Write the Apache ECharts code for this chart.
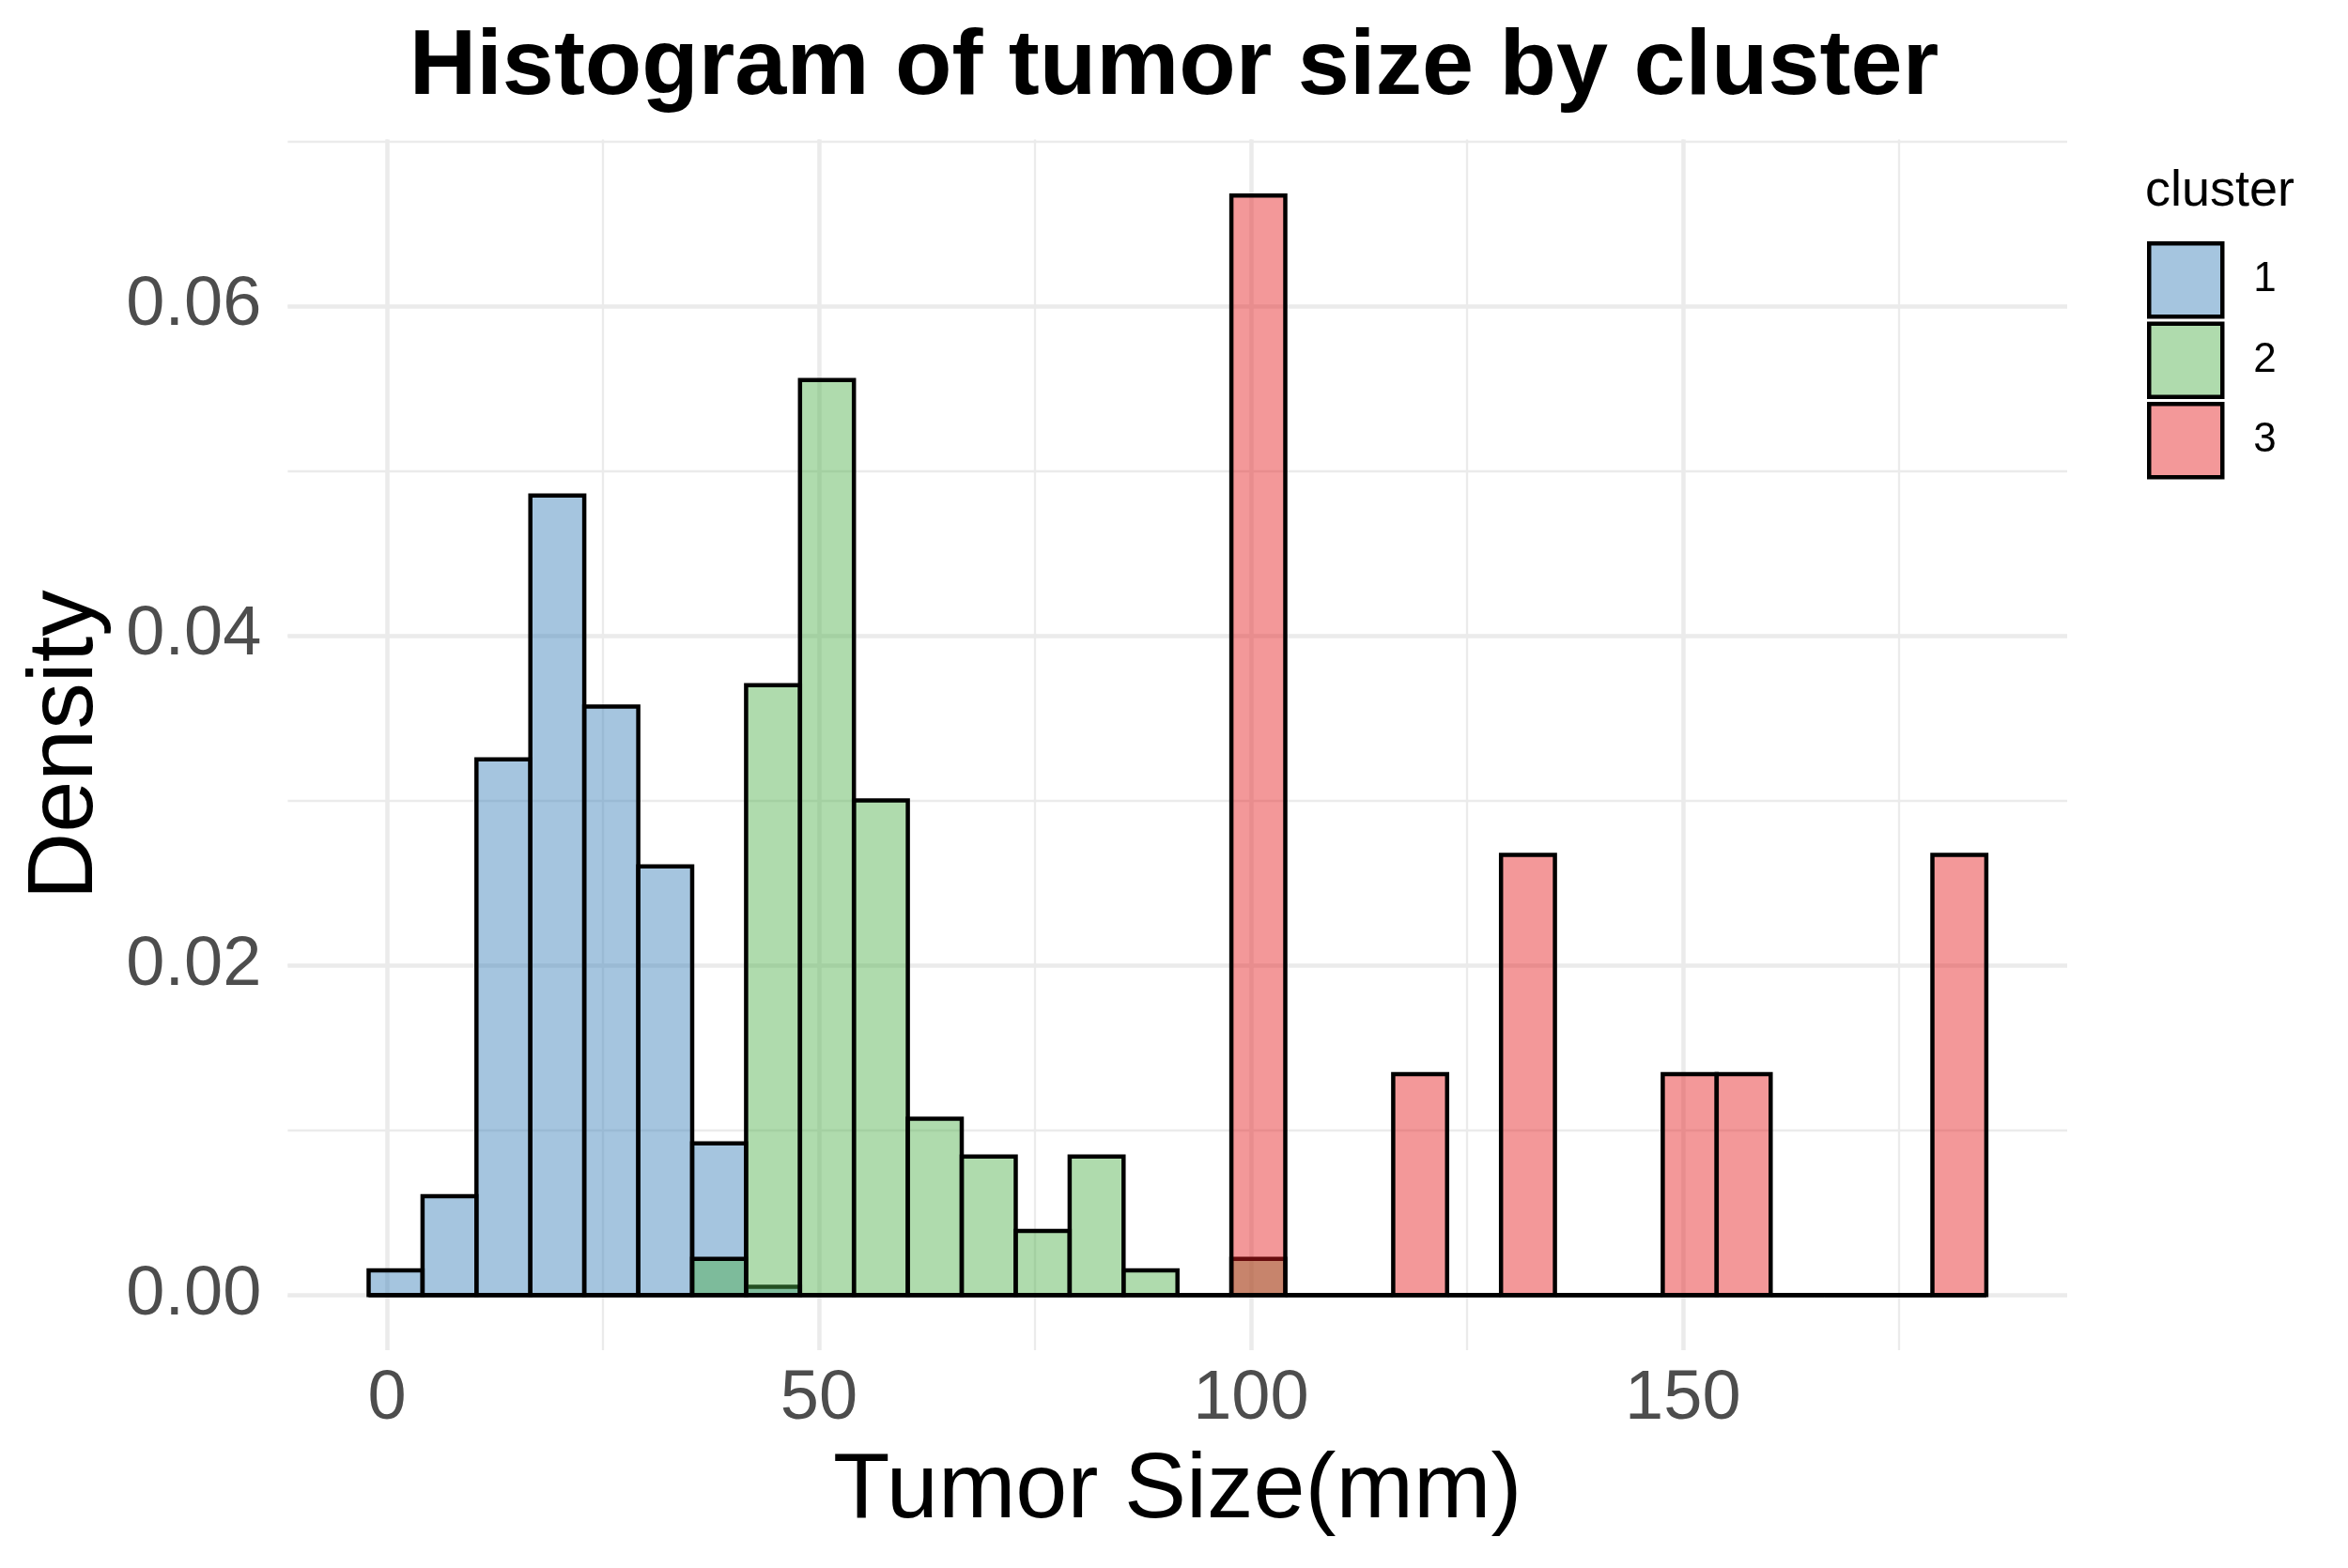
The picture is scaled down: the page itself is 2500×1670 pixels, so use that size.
<!DOCTYPE html>
<html>
<head>
<meta charset="utf-8">
<script src="https://cdn.jsdelivr.net/npm/echarts@6/dist/echarts.min.js"></script>
<style>
html,body{margin:0;padding:0;background:#fff;}
#chart{width:2500px;height:1670px;}
</style>
</head>
<body>
<div id="chart"></div>
<script>
// ---- data ----
const binEdges = [-2.12, 4.12, 10.36, 16.60, 22.84, 29.09, 35.33, 41.57, 47.81, 54.05,
  60.29, 66.53, 72.78, 79.02, 85.26, 91.50, 97.74, 103.98, 110.22, 116.47,
  122.71, 128.95, 135.19, 141.43, 147.67, 153.91, 160.16, 166.40, 172.64, 178.88, 185.12];
const clusterNames = ['1', '2', '3'];
const density1 = [0.0015, 0.0060, 0.0325, 0.0485, 0.0357, 0.0260, 0.0092, 0.0005, 0, 0,
  0, 0, 0, 0, 0, 0, 0, 0, 0, 0, 0, 0, 0, 0, 0, 0, 0, 0, 0, 0];
const density2 = [0, 0, 0, 0, 0, 0, 0.0022, 0.0370, 0.0555, 0.0300,
  0.0107, 0.0084, 0.0039, 0.0084, 0.0015, 0, 0.0022, 0, 0, 0, 0, 0, 0, 0, 0, 0, 0, 0, 0, 0];
const density3 = [0, 0, 0, 0, 0, 0, 0, 0, 0, 0,
  0, 0, 0, 0, 0, 0, 0.0667, 0, 0, 0.0134, 0, 0.0267, 0, 0, 0.0134, 0.0134, 0, 0, 0, 0.0267];
const xTickLabels = [0, 50, 100, 150];
const yTickLabels = ['0.00', '0.02', '0.04', '0.06'];

// ---- styling ----
const FONT = '"Liberation Sans", Arial, sans-serif';
const fills = ['rgba(55,126,184,0.45)', 'rgba(77,175,74,0.45)', 'rgba(228,26,28,0.45)'];
const densities = [density1, density2, density3];

function toRows(arr) {
  return arr.map((d, i) => [binEdges[i], binEdges[i + 1], d]);
}

function renderBar(params, api) {
  const p0 = api.coord([api.value(0), 0]);
  const p1 = api.coord([api.value(1), api.value(2)]);
  return {
    type: 'rect',
    shape: { x: p0[0], y: p1[1], width: p1[0] - p0[0], height: p0[1] - p1[1] },
    style: { fill: fills[params.seriesIndex], stroke: '#000', lineWidth: 4.5 }
  };
}

const XMIN = -11.48, XMAX = 194.48, YMIN = -0.00334, YMAX = 0.0701;

const chart = echarts.init(document.getElementById('chart'), null, { renderer: 'canvas' });
chart.setOption({
  backgroundColor: '#ffffff',
  animation: false,
  title: [
    { text: 'Histogram of tumor size by cluster', left: 'center', top: 18,
      textStyle: { fontFamily: FONT, fontSize: 99, fontWeight: 'bold', color: '#000' } },
    { text: 'cluster', left: 2279, top: 172,
      textStyle: { fontFamily: FONT, fontSize: 54, fontWeight: 'normal', color: '#000' } }
  ],
  legend: {
    orient: 'vertical', left: 2281, top: 252,
    itemWidth: 78, itemHeight: 78, itemGap: 3,
    textStyle: { fontFamily: FONT, fontSize: 44, color: '#000', padding: [0, 0, 0, 28] },
    data: clusterNames.map((n, i) => ({
      name: n, icon: 'rect',
      itemStyle: { color: fills[i], borderColor: '#000', borderWidth: 4.5 }
    }))
  },
  grid: { left: 306.4, right: 299, top: 148.5, bottom: 232 },
  xAxis: [
    {
      type: 'value', min: XMIN, max: XMAX, minInterval: 50, maxInterval: 50,
      name: 'Tumor Size(mm)', nameLocation: 'middle', nameGap: 101,
      nameTextStyle: { fontFamily: FONT, fontSize: 99, color: '#000' },
      axisLine: { show: false, onZero: false }, axisTick: { show: false },
      axisLabel: {
        fontFamily: FONT, fontSize: 74, color: '#4D4D4D', margin: 16,
        showMinLabel: false, showMaxLabel: false,
        formatter: v => (xTickLabels.indexOf(Math.round(v * 1000) / 1000) >= 0 ? String(Math.round(v)) : '')
      },
      splitLine: { show: true, showMinLine: false, showMaxLine: false, lineStyle: { color: '#EBEBEB', width: 4.5 } },
      z: 1
    },
    {
      type: 'value', min: XMIN, max: XMAX, minInterval: 25, maxInterval: 25,
      axisLine: { show: false, onZero: false }, axisTick: { show: false }, axisLabel: { show: false },
      splitLine: { show: true, showMinLine: false, showMaxLine: false, lineStyle: { color: '#EBEBEB', width: 2.3 } },
      z: 0
    }
  ],
  yAxis: [
    {
      type: 'value', min: YMIN, max: YMAX, minInterval: 0.02, maxInterval: 0.02,
      name: 'Density', nameLocation: 'middle', nameGap: 186,
      nameTextStyle: { fontFamily: FONT, fontSize: 99, color: '#000' },
      axisLine: { show: false, onZero: false }, axisTick: { show: false },
      axisLabel: {
        fontFamily: FONT, fontSize: 74, color: '#4D4D4D', margin: 28,
        showMinLabel: false, showMaxLabel: false,
        formatter: v => {
          const s = Math.abs(v).toFixed(2);
          return yTickLabels.indexOf(s) >= 0 && Math.abs(Math.round(v * 100) / 100 - v) < 1e-6 ? s : '';
        }
      },
      splitLine: { show: true, showMinLine: false, showMaxLine: false, lineStyle: { color: '#EBEBEB', width: 4.5 } },
      z: 1
    },
    {
      type: 'value', min: YMIN, max: YMAX, minInterval: 0.01, maxInterval: 0.01,
      axisLine: { show: false, onZero: false }, axisTick: { show: false }, axisLabel: { show: false },
      splitLine: { show: true, showMinLine: false, showMaxLine: false, lineStyle: { color: '#EBEBEB', width: 2.3 } },
      z: 0
    }
  ],
  series: densities.map((arr, i) => ({
    name: clusterNames[i],
    type: 'custom',
    xAxisIndex: 0, yAxisIndex: 0,
    renderItem: renderBar,
    encode: { x: [0, 1], y: 2 },
    itemStyle: { color: fills[i] },
    data: toRows(arr),
    z: 2 + i
  }))
});
</script>
</body>
</html>
